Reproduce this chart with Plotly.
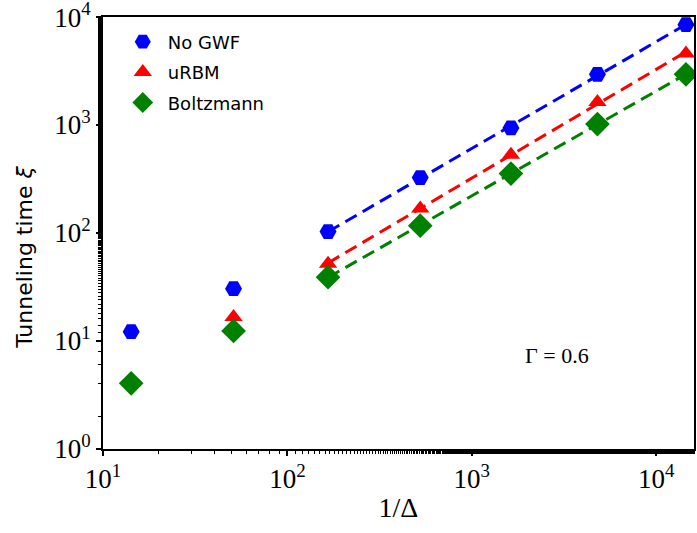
import numpy as np
import plotly.graph_objects as go

inv_delta = [14.2, 51, 166, 525, 1630, 4800, 14500]
no_gwf = [12.2, 30.5, 103, 326, 940, 2950, 8500]
urbm = [4.1, 16.7, 52, 169, 530, 1630, 4600]
boltz = [4.05, 12.4, 39, 117, 355, 1020, 2950]

names = ["No GWF", "uRBM", "Boltzmann"]
colors = ["#0000ff", "#ff0000", "#008000"]
symbols = ["hexagon2", "triangle-up", "diamond"]
sizes = [17, 16, 19]
series = [no_gwf, urbm, boltz]
fit_start = 2

serif = "Liberation Serif"
sans = "DejaVu Sans"

fig = go.Figure()

# dashed power-law fits (drawn first, beneath markers)
for name, col, ys in zip(names, colors, series):
    lx = np.log10(inv_delta[fit_start:])
    ly = np.log10(ys[fit_start:])
    p = np.polyfit(lx, ly, 1)
    xf = np.array([inv_delta[fit_start], inv_delta[-1]])
    yf = 10 ** np.polyval(p, np.log10(xf))
    fig.add_trace(go.Scatter(x=xf, y=yf, mode="lines", showlegend=False,
                             line=dict(color=col, width=3, dash="13px,7px"),
                             hoverinfo="skip"))

for name, col, sym, sz, ys in zip(names, colors, symbols, sizes, series):
    fig.add_trace(go.Scatter(x=inv_delta, y=ys, mode="markers", name=name,
                             legendgroup=name,
                             marker=dict(color=col, symbol=sym, size=sz,
                                         line=dict(width=0))))

tick_vals_x = [10, 100, 1000, 10000]
tick_text_x = ["10<sup>1</sup>", "10<sup>2</sup>", "10<sup>3</sup>", "10<sup>4</sup>"]
tick_vals_y = [1, 10, 100, 1000, 10000]
tick_text_y = ["10<sup>0</sup>", "10<sup>1</sup>", "10<sup>2</sup>", "10<sup>3</sup>", "10<sup>4</sup>"]

axis_common = dict(showline=True, linecolor="black", linewidth=2, mirror=True,
                   ticks="outside", ticklen=5, tickwidth=1.5, tickcolor="black",
                   showgrid=False, zeroline=False, ticklabeloverflow="allow",
                   automargin=False,
                   tickfont=dict(family=serif, size=27, color="black"),
                   minor=dict(ticks="outside", ticklen=3, tickwidth=1, tickcolor="black",
                              showgrid=False))

fig.update_xaxes(type="log", range=[0.9995, 4.205], tickvals=tick_vals_x, ticktext=tick_text_x,
                 title=dict(text="1/Δ", font=dict(family=serif, size=28, color="black"),
                            standoff=4),
                 **axis_common)
fig.update_yaxes(type="log", range=[-0.0005, 4.0005], tickvals=tick_vals_y, ticktext=tick_text_y,
                 **axis_common)

# y-axis title
fig.add_annotation(x=-0.132, y=0.445, xref="paper", yref="paper",
                   text="Tunneling time <i>ξ</i>", textangle=-90, showarrow=False,
                   xanchor="center", yanchor="middle",
                   font=dict(family=sans, size=22, color="black"))

fig.add_annotation(x=np.log10(1900), y=np.log10(7.3), xref="x", yref="y",
                   text="Γ = 0.6", showarrow=False, xanchor="left",
                   font=dict(family=serif, size=22, color="black"))

fig.update_layout(width=697, height=533,
                  margin=dict(l=103, r=3, t=17, b=84),
                  paper_bgcolor="white", plot_bgcolor="white",
                  legend=dict(x=0.025, y=0.985, xanchor="left", yanchor="top",
                              bgcolor="rgba(255,255,255,0)",
                              font=dict(family=sans, size=18, color="black"),
                              tracegroupgap=4, itemwidth=40))

fig.write_html("out.html")
